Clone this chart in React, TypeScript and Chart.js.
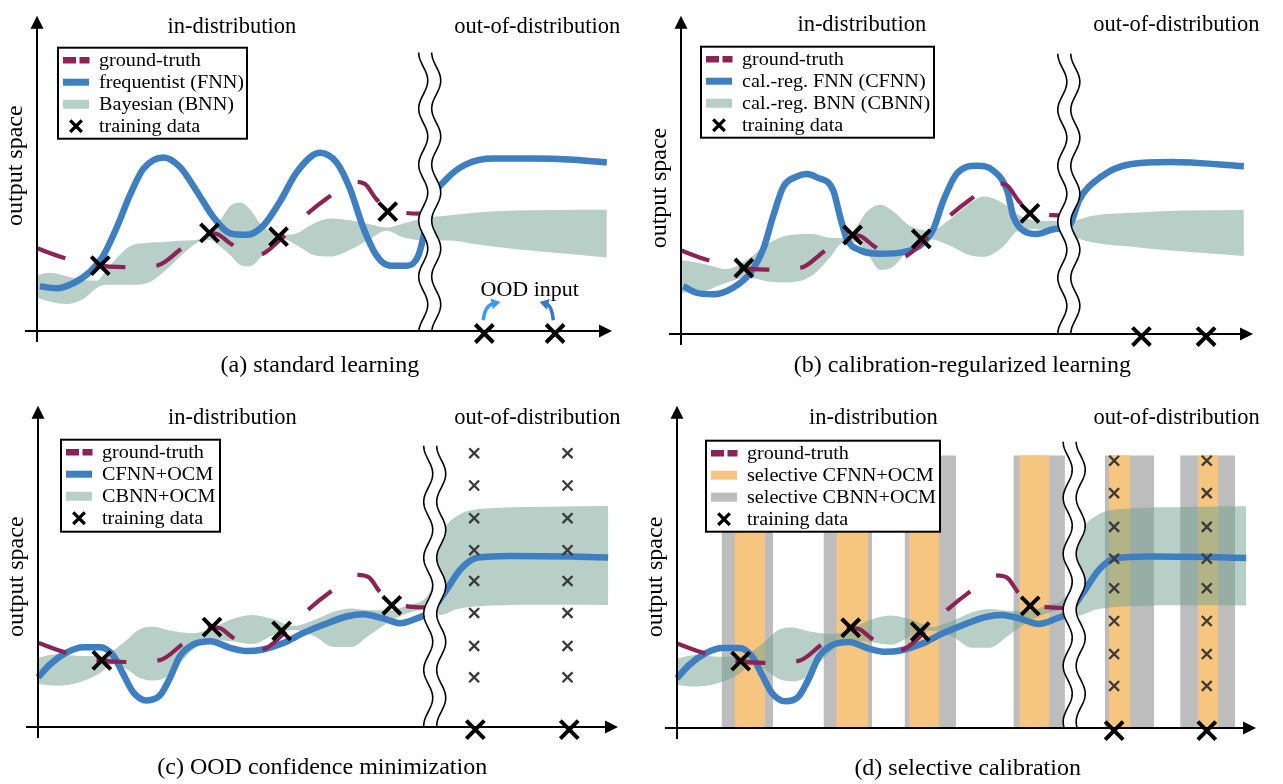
import React, { useEffect, useRef } from "react";
import { Chart, registerables } from "chart.js";

Chart.register(...registerables);

// ================= DATA (input space x: 0–100, output space y: 0–100) =================
// shared ground-truth function and in-distribution training data
const GT_X = [0, 4.5, 10, 15, 21, 25, 29, 31, 33.5, 36, 38.5, 42.5, 46.5, 50.5, 55, 57, 59, 61, 64, 67.8];
const GT_Y = [26.3, 23.4, 21.0, 20.3, 20.9, 26.0, 30.9, 31.0, 28.0, 25.0, 24.2, 29.4, 36.5, 42.3, 47.5, 46.8, 42.0, 38.8, 37.6, 37.3];
const TRAIN_X = [11, 30, 42, 61];
const TRAIN_Y = [20.8, 31.2, 30.0, 38.0];

// (a) standard learning
const A_FNN_X = [0.5, 3.4, 6.3, 9.2, 11.5, 13.9, 16.2, 18.5, 22.0, 24.9, 27.8, 30.7, 33.6, 36.5, 39.4, 42.3, 45.2, 49.2, 52.1, 54.4, 56.7, 59.1, 61.4, 64.3, 66.3, 67.5, 68.9, 71.3, 74.7, 79.4, 86.3, 93.3, 99.1];
const A_FNN_Y = [14.2, 13.6, 15.2, 18.8, 23.9, 33.1, 43.4, 51.6, 55.2, 52.1, 44.4, 36.2, 31.1, 30.6, 33.6, 41.3, 50.6, 56.7, 53.6, 45.4, 33.1, 23.9, 20.8, 20.8, 23.9, 32.1, 42.4, 48.5, 53.1, 54.9, 54.9, 54.5, 53.6];
const A_BAND_X = [0, 2, 5, 8, 10.4, 12.1, 14, 16.2, 19.1, 22, 25, 27.8, 30, 31.8, 33.6, 35.3, 37, 38.8, 40.5, 42.8, 45.2, 48.1, 51, 54.4, 57.9, 60.8, 63.7, 67.2, 71.8, 76, 83.4, 90, 99.1];
const A_BAND_HI = [17.7, 18.5, 17.5, 16.2, 16.0, 19.5, 23.5, 27.0, 28.0, 28.3, 28.7, 29.0, 31.0, 35.2, 39.8, 40.9, 38.8, 34.2, 31.6, 30.6, 31.1, 34.2, 35.8, 35.2, 34.0, 32.9, 34.2, 35.8, 36.8, 37.6, 38.3, 38.5, 38.6];
const A_BAND_LO = [10.6, 9.5, 8.6, 10.1, 13.7, 14.7, 14.7, 14.7, 15.2, 18.8, 23.9, 28.0, 29.0, 27.0, 24.2, 21.1, 20.6, 23.2, 27.3, 29.3, 27.3, 24.2, 23.7, 25.8, 29.3, 31.9, 29.8, 28.8, 28.8, 27.7, 26.0, 24.9, 23.4];
const A_OOD_X = [77.8, 90.1];

// (b) calibration-regularized learning
const B_FNN_X = [0.4, 2.7, 5.6, 9.1, 12.1, 14.4, 16.1, 17.9, 20.2, 22.0, 23.7, 26.6, 27.8, 29.0, 31.3, 34.8, 38.9, 41.8, 44.1, 45.9, 48.2, 51.7, 54.6, 57.0, 58.1, 59.9, 62.2, 65.1, 68.0, 69.6, 73.4, 78.5, 85.7, 98.4];
const B_FNN_Y = [15.1, 13.0, 12.5, 14.6, 19.2, 26.9, 37.1, 46.4, 49.6, 50.4, 49.4, 45.3, 37.1, 29.9, 26.4, 25.3, 25.8, 27.9, 33.0, 42.2, 50.5, 53.0, 51.5, 45.3, 37.1, 32.5, 31.5, 33.0, 34.5, 42.2, 49.5, 53.5, 54.2, 52.9];
const B_BAND_X = [0, 4, 8, 11.5, 15.5, 19, 23, 26, 28.5, 30.5, 32.5, 34.8, 37, 40, 43.5, 47, 50.5, 53, 56, 59.5, 63, 68, 72, 80, 88, 98.4];
const B_BAND_HI = [23.3, 22.1, 20.5, 23.3, 28.8, 31.2, 31.5, 30.3, 30.2, 33.5, 38.5, 40.7, 38.8, 34.1, 32.5, 36.1, 41.2, 43.3, 41.5, 37.0, 35.6, 35.6, 37.3, 38.3, 38.9, 39.1];
const B_BAND_LO = [13.0, 13.5, 16.2, 17.8, 16.5, 16.3, 18.5, 24.0, 29.0, 29.0, 25.5, 20.2, 21.1, 26.9, 29.9, 27.9, 24.8, 24.3, 27.0, 33.0, 33.0, 31.0, 28.8, 27.3, 26.0, 24.6];
const B_OOD_X = [80.5, 91.8];

// (c) OOD confidence minimization and (d) selective calibration
const CD_FNN_X = [0, 2.1, 4.9, 7.8, 10.7, 13.0, 14.7, 16.4, 18.7, 21.0, 22.8, 24.5, 26.8, 29.7, 33.1, 36.0, 38.8, 42.3, 45.7, 49.2, 53.2, 56.1, 59.5, 62.4, 65.3, 67.6, 70.2, 72.9, 75.8, 81.4, 92.0, 98.3];
const CD_FNN_Y = [15.5, 19.6, 23.2, 24.9, 24.9, 22.2, 16.5, 10.9, 8.3, 9.8, 15.5, 22.2, 25.8, 26.8, 24.7, 23.7, 24.2, 26.2, 29.3, 31.9, 34.5, 35.2, 33.9, 32.4, 33.9, 36.0, 42.2, 49.3, 52.9, 53.4, 53.2, 52.9];
const CD_BAND_X = [0, 3.2, 7, 10.5, 13, 15.5, 17.5, 20, 22.5, 24.5, 27, 30, 33.5, 37, 40.5, 44, 47.5, 51, 54, 57, 60.5, 64, 67.6, 69.4, 72.2, 78, 88, 98.3];
const CD_BAND_HI = [21.6, 22.7, 22.2, 22.2, 24.0, 27.5, 30.5, 31.3, 30.2, 29.6, 29.3, 30.8, 33.7, 35.0, 33.7, 31.5, 33.3, 36.0, 37.0, 36.5, 36.4, 38.2, 42.2, 58.6, 65.8, 68.3, 68.8, 69.0];
const CD_BAND_LO = [13.4, 12.9, 13.9, 16.6, 19.6, 17.8, 15.3, 14.5, 16.0, 20.0, 24.5, 27.2, 26.8, 25.9, 28.6, 30.3, 28.5, 25.0, 25.0, 28.5, 32.8, 35.7, 37.0, 35.0, 36.8, 37.9, 38.2, 38.1];
const C_OOD_X = [75.4, 91.6];
const C_GRID_X = [75.2, 91.3];
const C_GRID_Y = [85.5, 75.4, 65.2, 55.2, 45.6, 35.6, 25.3, 15.5];
const D_OOD_X = [75.5, 91.5];
const D_GRID_X = [75.5, 91.5];
const D_GRID_Y = [83.2, 73.1, 62.6, 52.7, 43.5, 33.3, 23.0, 13.1];
const D_ORANGE_BARS = [[10.0, 15.2], [27.5, 33.0], [40.1, 45.3], [59.1, 64.3], [74.6, 78.3], [89.9, 93.5]];
const D_GRAY_BARS = [[7.7, 16.6], [25.3, 33.7], [39.3, 48.2], [58.1, 67.0], [73.9, 82.4], [86.9, 96.4]];
const BAR_TOP = 84.8;
const OOD_Y = -0.8;

// ================= TEXT =================
const REGION_LABELS = ["in-distribution", "out-of-distribution"];
const Y_TITLE = "output space";
const OOD_NOTE = "OOD input";
const LEGEND_A = ["ground-truth", "frequentist (FNN)", "Bayesian (BNN)", "training data"];
const LEGEND_B = ["ground-truth", "cal.-reg. FNN (CFNN)", "cal.-reg. BNN (CBNN)", "training data"];
const LEGEND_C = ["ground-truth", "CFNN+OCM", "CBNN+OCM", "training data"];
const LEGEND_D = ["ground-truth", "selective CFNN+OCM", "selective CBNN+OCM", "training data"];
const CAPTIONS = ["(a) standard learning", "(b) calibration-regularized learning", "(c) OOD confidence minimization", "(d) selective calibration"];

// ================= STYLE =================
const FONT = '"Liberation Serif", "Times New Roman", serif';
const C_GT = "#8b2357";
const C_FNN = "#3d7fc1";
const C_BAND = "rgba(112,160,144,0.5)";
const C_BAND_LEGEND = "#b8cfc7";
const C_ORANGE = "#f6c680";
const C_GRAY = "#bdbdbd";
const C_GRIDX = "#3a3a3a";
const CLEAR = "rgba(0,0,0,0)";

const pts = (xs: number[], ys: number[]) => xs.map((x, i) => ({ x, y: ys[i] }));
const row = (xs: number[], y: number) => xs.map((x) => ({ x, y }));

type Spec = {
  key: string;
  left: number; top: number; width: number; height: number;
  pad: { left: number; right: number; top: number; bottom: number };
  fnnX: number[]; fnnY: number[];
  bandX: number[]; bandHi: number[]; bandLo: number[];
  oodX: number[];
  gridX?: number[]; gridY?: number[];
  bars?: boolean;
  legend: { labels: string[]; kinds: string[]; dx: number; dy: number; w: number; h: number };
  brk: { x: number; top: number };
  inPos: [number, number]; outPos: [number, number];
  caption: string; capPos: [number, number];
  yTitleY: number;
  oodNote?: boolean;
};

const SPECS: Spec[] = [
  {
    key: "a", left: 0, top: 0, width: 640, height: 390,
    pad: { left: 37, right: 28, top: 6, bottom: 59 },
    fnnX: A_FNN_X, fnnY: A_FNN_Y, bandX: A_BAND_X, bandHi: A_BAND_HI, bandLo: A_BAND_LO,
    oodX: A_OOD_X,
    legend: { labels: LEGEND_A, kinds: ["dash", "line", "band", "cross"], dx: 21, dy: 31, w: 189, h: 91 },
    brk: { x: 68.3, top: 88.6 },
    inPos: [33.9, 96.6], outPos: [87.0, 96.6],
    caption: CAPTIONS[0], capPos: [49.2, -10.9], yTitleY: 52.6, oodNote: true,
  },
  {
    key: "b", left: 640, top: 0, width: 643, height: 390,
    pad: { left: 41, right: 30, top: 9, bottom: 56 },
    fnnX: B_FNN_X, fnnY: B_FNN_Y, bandX: B_BAND_X, bandHi: B_BAND_HI, bandLo: B_BAND_LO,
    oodX: B_OOD_X,
    legend: { labels: LEGEND_B, kinds: ["dash", "line", "band", "cross"], dx: 20, dy: 30, w: 233, h: 91 },
    brk: { x: 67.8, top: 88.3 },
    inPos: [31.6, 97.5], outPos: [86.6, 97.5],
    caption: CAPTIONS[1], capPos: [49.2, -10.1], yTitleY: 46,
  },
  {
    key: "c", left: 0, top: 390, width: 640, height: 394,
    pad: { left: 38, right: 22, top: 12, bottom: 57 },
    fnnX: CD_FNN_X, fnnY: CD_FNN_Y, bandX: CD_BAND_X, bandHi: CD_BAND_HI, bandLo: CD_BAND_LO,
    oodX: C_OOD_X, gridX: C_GRID_X, gridY: C_GRID_Y,
    legend: { labels: LEGEND_C, kinds: ["dash", "line", "band", "cross"], dx: 23, dy: 33, w: 159, h: 92 },
    brk: { x: 68.4, top: 87.8 },
    inPos: [33.5, 96.3], outPos: [86.1, 96.3],
    caption: CAPTIONS[2], capPos: [49.0, -12.6], yTitleY: 46.9,
  },
  {
    key: "d", left: 640, top: 390, width: 643, height: 394,
    pad: { left: 37, right: 27, top: 13, bottom: 56 },
    fnnX: CD_FNN_X, fnnY: CD_FNN_Y, bandX: CD_BAND_X, bandHi: CD_BAND_HI, bandLo: CD_BAND_LO,
    oodX: D_OOD_X, gridX: D_GRID_X, gridY: D_GRID_Y, bars: true,
    legend: { labels: LEGEND_D, kinds: ["dash", "orange", "gray", "cross"], dx: 29, dy: 34, w: 234, h: 91 },
    brk: { x: 68.6, top: 89.1 },
    inPos: [33.9, 96.6], outPos: [86.3, 96.6],
    caption: CAPTIONS[3], capPos: [50.2, -12.6], yTitleY: 47,
  },
];

function drawBreak(ctx: CanvasRenderingContext2D, cx: number, top: number, bottom: number) {
  const A = 4.5, P = 56, half = 6.5;
  const off = (py: number) => -A * Math.cos((2 * Math.PI * (py - top)) / P);
  ctx.beginPath();
  for (let py = top; py <= bottom; py += 1) ctx.lineTo(cx - half + off(py), py);
  for (let py = bottom; py >= top; py -= 1) ctx.lineTo(cx + half + off(py), py);
  ctx.closePath();
  ctx.fillStyle = "#fff";
  ctx.fill();
  ctx.strokeStyle = "#000";
  ctx.lineWidth = 1.6;
  for (const s of [-half, half]) {
    ctx.beginPath();
    for (let py = top; py <= bottom; py += 1) ctx.lineTo(cx + s + off(py), py);
    ctx.stroke();
  }
}

function drawCurvedArrow(ctx: CanvasRenderingContext2D, s: number[], c: number[], e: number[], color: string) {
  const dx = e[0] - c[0], dy = e[1] - c[1];
  const len = Math.hypot(dx, dy) || 1;
  const ux = dx / len, uy = dy / len;
  const hl = 9, hw = 5.5;
  const bx = e[0] - ux * hl, by = e[1] - uy * hl;
  ctx.strokeStyle = color;
  ctx.fillStyle = color;
  ctx.lineWidth = 3.5;
  ctx.beginPath();
  ctx.moveTo(s[0], s[1]);
  ctx.quadraticCurveTo(c[0], c[1], bx + ux * 2, by + uy * 2);
  ctx.stroke();
  ctx.beginPath();
  ctx.moveTo(e[0], e[1]);
  ctx.lineTo(bx - uy * hw, by + ux * hw);
  ctx.lineTo(bx + uy * hw, by - ux * hw);
  ctx.closePath();
  ctx.fill();
}

function decor(spec: Spec) {
  return {
    id: "decor_" + spec.key,
    afterDatasetsDraw(chart: any) {
      const ctx: CanvasRenderingContext2D = chart.ctx;
      const xs = chart.scales.x, ys = chart.scales.y;
      const X = (v: number) => xs.getPixelForValue(v);
      const Y = (v: number) => ys.getPixelForValue(v);
      const area = chart.chartArea;
      ctx.save();

      // axis break
      drawBreak(ctx, X(spec.brk.x), Y(spec.brk.top), Y(0));

      // axes with arrow heads
      const x0 = X(0), y0 = Y(0), xEnd = X(100), yEnd = Y(100);
      ctx.strokeStyle = "#000";
      ctx.fillStyle = "#000";
      ctx.lineWidth = 2;
      ctx.beginPath();
      ctx.moveTo(x0, y0 + 11);
      ctx.lineTo(x0, yEnd + 10);
      ctx.stroke();
      ctx.beginPath();
      ctx.moveTo(x0 - 12, y0);
      ctx.lineTo(xEnd - 10, y0);
      ctx.stroke();
      ctx.beginPath();
      ctx.moveTo(x0, yEnd - 1);
      ctx.lineTo(x0 - 6.5, yEnd + 12);
      ctx.lineTo(x0 + 6.5, yEnd + 12);
      ctx.closePath();
      ctx.fill();
      ctx.beginPath();
      ctx.moveTo(xEnd, y0);
      ctx.lineTo(xEnd - 13, y0 - 6.5);
      ctx.lineTo(xEnd - 13, y0 + 6.5);
      ctx.closePath();
      ctx.fill();

      // legend
      const L = spec.legend;
      const bx = area.left + L.dx, by = area.top + L.dy;
      ctx.fillStyle = "#fff";
      ctx.fillRect(bx, by, L.w, L.h);
      ctx.lineWidth = 2;
      ctx.strokeStyle = "#000";
      ctx.strokeRect(bx, by, L.w, L.h);
      ctx.textAlign = "left";
      ctx.textBaseline = "middle";
      L.labels.forEach((label, i) => {
        const cy = by + 12.5 + 22 * i;
        const sx = bx + 5;
        const kind = L.kinds[i];
        if (kind === "dash") {
          ctx.strokeStyle = C_GT;
          ctx.lineWidth = 6.5;
          ctx.lineCap = "butt";
          ctx.beginPath();
          ctx.moveTo(sx, cy); ctx.lineTo(sx + 13, cy);
          ctx.moveTo(sx + 16.5, cy); ctx.lineTo(sx + 26.5, cy);
          ctx.stroke();
        } else if (kind === "line") {
          ctx.strokeStyle = C_FNN;
          ctx.lineWidth = 7;
          ctx.beginPath();
          ctx.moveTo(sx, cy); ctx.lineTo(sx + 26, cy);
          ctx.stroke();
        } else if (kind === "band" || kind === "orange" || kind === "gray") {
          ctx.fillStyle = kind === "band" ? C_BAND_LEGEND : kind === "orange" ? C_ORANGE : C_GRAY;
          ctx.fillRect(sx, cy - 4.5, 26, 9);
        } else {
          const cx = sx + 13, h = 5.8;
          ctx.strokeStyle = "#000";
          ctx.lineWidth = 3.2;
          ctx.beginPath();
          ctx.moveTo(cx - h, cy - h); ctx.lineTo(cx + h, cy + h);
          ctx.moveTo(cx + h, cy - h); ctx.lineTo(cx - h, cy + h);
          ctx.stroke();
        }
        ctx.fillStyle = "#000";
        ctx.save();
        ctx.translate(bx + 41, cy + 1);
        ctx.scale(1.12, 1);
        ctx.font = `18px ${FONT}`;
        ctx.fillText(label, 0, 0);
        ctx.restore();
      });

      // region labels, caption, y title
      ctx.fillStyle = "#000";
      ctx.textAlign = "center";
      ctx.textBaseline = "middle";
      ctx.font = `22.5px ${FONT}`;
      ctx.fillText(REGION_LABELS[0], X(spec.inPos[0]), Y(spec.inPos[1]));
      ctx.fillText(REGION_LABELS[1], X(spec.outPos[0]), Y(spec.outPos[1]));
      ctx.font = `24px ${FONT}`;
      ctx.fillText(spec.caption, X(spec.capPos[0]), Y(spec.capPos[1]));
      ctx.save();
      ctx.translate(x0 - 21, Y(spec.yTitleY));
      ctx.rotate(-Math.PI / 2);
      ctx.fillText(Y_TITLE, 0, 0);
      ctx.restore();

      if (spec.oodNote) {
        ctx.font = `22px ${FONT}`;
        ctx.fillStyle = "#000";
        ctx.fillText(OOD_NOTE, X(85.7), Y(12.9));
        drawCurvedArrow(ctx, [X(77.6), Y(3.4)], [X(77.9), Y(8.2)], [X(80.6), Y(9.2)], "#3d9cf5");
        drawCurvedArrow(ctx, [X(89.8), Y(3.4)], [X(89.5), Y(8.2)], [X(87.4), Y(9.2)], "#3a78c8");
      }
      ctx.restore();
    },
  };
}

function buildConfig(spec: Spec): any {
  const smooth = { pointRadius: 0, cubicInterpolationMode: "monotone", clip: false };
  const datasets: any[] = [];
  datasets.push({
    label: "training data", data: pts(TRAIN_X, TRAIN_Y), showLine: false,
    pointStyle: "crossRot", pointRadius: 12.7, pointBorderWidth: 4, pointBorderColor: "#000",
    pointBackgroundColor: "#000", order: 0, clip: false,
  });
  datasets.push({
    label: "OOD input", data: row(spec.oodX, OOD_Y), showLine: false,
    pointStyle: "crossRot", pointRadius: 12.7, pointBorderWidth: 4, pointBorderColor: "#000",
    pointBackgroundColor: "#000", order: 0, clip: false,
  });
  datasets.push({
    label: "ground-truth", data: pts(GT_X, GT_Y), borderColor: C_GT, borderWidth: 4.2,
    borderDash: [30, 31], borderCapStyle: "butt", fill: false, order: 1, ...smooth,
  });
  datasets.push({
    label: "FNN", data: pts(spec.fnnX, spec.fnnY), borderColor: C_FNN, borderWidth: 6.5,
    fill: false, order: 2, ...smooth,
  });
  const loIndex = datasets.length;
  datasets.push({
    label: "BNN lower", data: pts(spec.bandX, spec.bandLo), borderColor: CLEAR, borderWidth: 0,
    fill: false, order: 4, ...smooth,
  });
  datasets.push({
    label: "BNN upper", data: pts(spec.bandX, spec.bandHi), borderColor: CLEAR, borderWidth: 0,
    backgroundColor: C_BAND, fill: loIndex, order: 3, ...smooth,
  });
  if (spec.gridX && spec.gridY) {
    const grid: { x: number; y: number }[] = [];
    spec.gridX.forEach((x) => spec.gridY!.forEach((y) => grid.push({ x, y })));
    datasets.push({
      label: "OOD samples", data: grid, showLine: false, pointStyle: "crossRot",
      pointRadius: 7, pointBorderWidth: 2.3, pointBorderColor: C_GRIDX, order: 0, clip: false,
    });
  }
  if (spec.bars) {
    D_GRAY_BARS.forEach((b, i) =>
      datasets.push({
        label: "selective CBNN+OCM " + i, data: row(b, BAR_TOP), fill: "origin",
        backgroundColor: C_GRAY, borderColor: CLEAR, borderWidth: 0, pointRadius: 0, tension: 0, order: 8,
      })
    );
    D_ORANGE_BARS.forEach((b, i) =>
      datasets.push({
        label: "selective CFNN+OCM " + i, data: row(b, BAR_TOP), fill: "origin",
        backgroundColor: C_ORANGE, borderColor: CLEAR, borderWidth: 0, pointRadius: 0, tension: 0, order: 7,
      })
    );
  }
  return {
    type: "line",
    data: { datasets },
    options: {
      responsive: false,
      maintainAspectRatio: false,
      animation: false,
      devicePixelRatio: 1,
      events: [],
      layout: { padding: spec.pad },
      scales: {
        x: { type: "linear", min: 0, max: 100, display: false },
        y: { type: "linear", min: 0, max: 100, display: false },
      },
      plugins: { legend: { display: false }, tooltip: { enabled: false } },
    },
    plugins: [decor(spec)],
  };
}

function Panel({ spec }: { spec: Spec }) {
  const ref = useRef<HTMLCanvasElement>(null);
  useEffect(() => {
    if (!ref.current) return;
    const chart = new Chart(ref.current, buildConfig(spec));
    return () => chart.destroy();
  }, [spec]);
  return (
    <canvas
      ref={ref}
      width={spec.width}
      height={spec.height}
      style={{ position: "absolute", left: spec.left, top: spec.top, width: spec.width, height: spec.height }}
    />
  );
}

export default function App() {
  return (
    <div style={{ position: "absolute", left: 0, top: 0, width: 1283, height: 784, background: "#fff" }}>
      {SPECS.map((s) => (
        <Panel key={s.key} spec={s} />
      ))}
    </div>
  );
}
